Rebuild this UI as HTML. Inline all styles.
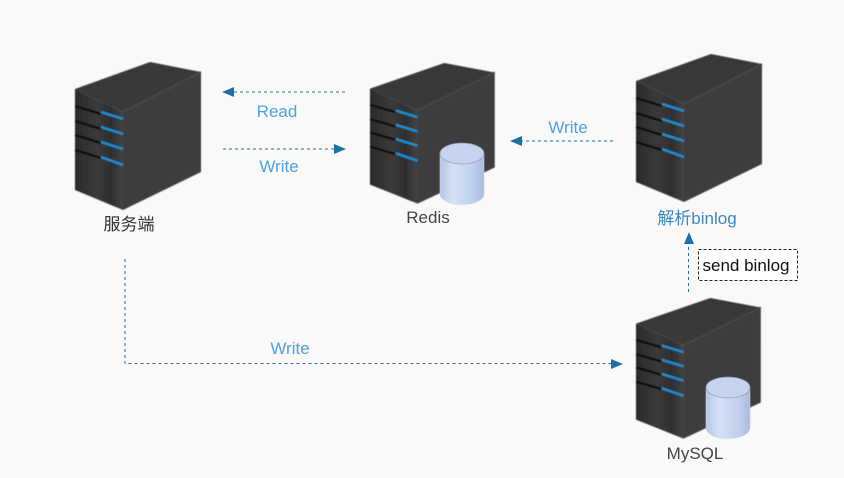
<!DOCTYPE html>
<html><head><meta charset="utf-8">
<style>
html,body{margin:0;padding:0;background:#faf9f8;}
svg{display:block;}
text{font-family:"Liberation Sans","Noto Sans CJK SC",sans-serif;font-size:17px;}
.b{fill:#4ba3e3;}
.k{fill:#333;}
.l{fill:none;stroke:#1f6fa8;stroke-width:1;stroke-dasharray:3 3;}
</style></head>
<body>
<svg width="844" height="478" viewBox="0 0 844 478" xmlns="http://www.w3.org/2000/svg">
<defs>
<linearGradient id="front" x1="0" x2="1" y1="0" y2="0">
<stop offset="0" stop-color="#2a2a2a"/><stop offset=".45" stop-color="#3a3a3a"/><stop offset=".75" stop-color="#2e2e2e"/><stop offset="1" stop-color="#444"/>
</linearGradient>
<linearGradient id="cylFill" x1="0" x2="1" y1="0" y2="0">
<stop offset="0" stop-color="#b5c5e6"/><stop offset=".3" stop-color="#d6e1f6"/><stop offset=".75" stop-color="#c0cfec"/><stop offset="1" stop-color="#a9badd"/>
</linearGradient>
<filter id="soft" x="-5%" y="-5%" width="110%" height="110%"><feGaussianBlur stdDeviation="0.5"/></filter>
<g id="server" filter="url(#soft)">
<polygon points="0,27 75,0 126,10 48,50" fill="#383838"/>
<polygon points="48,50 126,10 126,110 48,148" fill="#3c3c3c"/>
<polygon points="0,27 48,50 48,148 0,128" fill="url(#front)"/>
<path d="M48,50 L126,10" stroke="#474747" stroke-width="2" fill="none"/>
<g stroke-width="2.4" fill="none">
<path d="M0,44 L26,52" stroke="#111"/><path d="M0,59 L26,67" stroke="#111"/><path d="M0,73 L26,81" stroke="#111"/><path d="M0,88 L26,96" stroke="#111"/>
<path d="M26,50 L48,57" stroke="#1b8fd6"/><path d="M26,65 L48,72" stroke="#1b8fd6"/><path d="M26,80 L48,87" stroke="#1b8fd6"/><path d="M26,95 L48,103" stroke="#1b8fd6"/>
</g>
</g>
<g id="db">
<path d="M0,10.500 L0,51 A22,10.500 0 0 0 44,51 L44,10.500 Z" fill="url(#cylFill)" stroke="#c7d3ea" stroke-width=".6"/>
<ellipse cx="22" cy="10.500" rx="22" ry="10.500" fill="#c5d3ef" stroke="#8f9cb8" stroke-width=".8"/>
</g>
</defs>

<use href="#server" x="75" y="62"/>
<use href="#server" transform="translate(370,63) scale(0.99,0.95)"/>
<use href="#server" x="636" y="54"/>
<use href="#server" transform="translate(636,298) scale(0.99,0.95)"/>
<use href="#db" x="440" y="143"/>
<use href="#db" x="706" y="377"/>

<path class="l" d="M345,92 H232"/>
<polygon points="222,92 234,87 234,97" fill="#1f6fa8"/>
<path class="l" d="M223,149 H336"/>
<polygon points="346,149 334,144 334,154" fill="#1f6fa8"/>
<path class="l" d="M613,141 H520"/>
<polygon points="510,141 522,136 522,146" fill="#1f6fa8"/>
<path class="l" d="M125,259 V363.500 H612"/>
<polygon points="623,364 611,359 611,369" fill="#1f6fa8"/>
<path d="M688.500,292 V242" fill="none" stroke="#1f6fa8" stroke-dasharray="3 3"/>
<polygon points="689,232 684,244 694,244" fill="#1f6fa8"/>

<rect x="698.500" y="249.500" width="99" height="31" fill="#fff" stroke="#222" stroke-dasharray="3 2"/>
<text x="746" y="271" text-anchor="middle" fill="#111">send binlog</text>

<text class="b" x="277" y="117" text-anchor="middle">Read</text>
<text class="b" x="279" y="172" text-anchor="middle">Write</text>
<text class="b" x="568" y="133" text-anchor="middle">Write</text>
<text class="b" x="290" y="354" text-anchor="middle">Write</text>
<text class="k" x="129" y="230" text-anchor="middle">服务端</text>
<text x="428" y="223" text-anchor="middle" fill="#444">Redis</text>
<text x="697" y="224" text-anchor="middle" fill="#3d87c0">解析binlog</text>
<text x="695" y="459" text-anchor="middle" fill="#444">MySQL</text>
</svg>
</body></html>
